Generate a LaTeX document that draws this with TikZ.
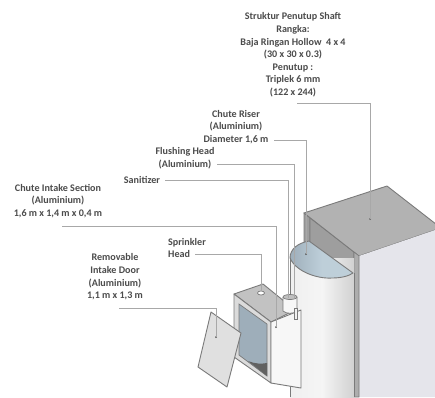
\documentclass[tikz,border=0pt]{standalone}
\usepackage{fontspec}
\setmainfont{Carlito}
\usetikzlibrary{shapes.geometric}
\definecolor{txt}{gray}{0.3}
\definecolor{ln}{gray}{0.66}
\definecolor{edge}{gray}{0.48}
\definecolor{topc}{gray}{0.70}
\definecolor{wallc}{gray}{0.62}
\definecolor{stripc}{gray}{0.68}
\definecolor{frontc}{RGB}{229,229,235}
\definecolor{waterc}{RGB}{190,207,217}
\definecolor{winc}{RGB}{158,174,186}
\tikzset{
  lbl/.style={font=\bfseries\fontsize{10.1}{12.6}\selectfont,text=txt,align=center,inner sep=0pt,anchor=center},
  leader/.style={draw=ln,line width=1pt},
  outl/.style={draw=edge,line width=0.9pt,line join=round},
  thin edge/.style={draw=edge,line width=0.6pt},
  dotc/.style={fill=black!65}
}
\begin{document}
\begin{tikzpicture}[x=1pt,y=-1pt]
\useasboundingbox (0,0) rectangle (435,397);
\fill[white] (0,0) rectangle (435,397);
\begin{scope}
\clip (0,0) rectangle (435,397);
% shaft
\path[thin edge,fill=wallc] (304,213) -- (310,218) -- (310,250) -- (304,250) -- cycle;
\path[thin edge,fill=wallc] (310,218) -- (354,252) -- (354,280) -- (310,250) -- cycle;
\path[outl,fill=topc] (304,213) -- (387,186) -- (441,228) -- (359,256) -- cycle;
\path[fill=frontc] (359,256) -- (441,228) -- (441,397) -- (359,397) -- cycle;
\path[thin edge,fill=stripc] (354,252) -- (359,256) -- (359,397) -- (354,397) -- cycle;
% chute
\shade[left color=black!6,right color=black!18,middle color=black!4] (290,258) rectangle (354,397);
\path[outl,left color=winc,right color=waterc,middle color=waterc] (309,241) .. controls (298,243) and (290,249) .. (290,258) .. controls (296,272) and (318,279) .. (332,278) .. controls (341,278) and (349,276) .. (353,273) -- cycle;
\draw[edge,line width=1pt] (290,258) -- (290,397);
\draw[edge,line width=0.7pt] (354,273) -- (354,397);
% box
\path[outl,fill=black!24] (234,294) -- (263,284) -- (295,310) -- (271,322) -- cycle;
\path[outl,fill=black!14] (234,294) -- (271,322) -- (271,383) -- (234,357) -- cycle;
\path[fill=winc,draw=edge,line width=0.7pt] (239,304) -- (267,324) -- (267,376) -- (239,355) -- cycle;
\fill[black!62] (248,361) .. controls (255,364) and (262,364) .. (267,363) -- (267,376) -- cycle;
\path[outl,fill=black!3] (271,322) -- (301,310) -- (301,388) -- (271,383) -- cycle;
\node[draw=edge,fill=white,ellipse,minimum width=7pt,minimum height=4pt,inner sep=0pt,line width=0.7pt] (spr) at (261,293) {};
% door
\path[outl,fill=black!12] (211,312) -- (241,333) -- (227,387) -- (198,367) -- cycle;
% cylinder
\path[draw=edge,line width=0.7pt,fill=black!3] (283,297) -- (283,311) .. controls (286,314) and (294,314) .. (297,311) -- (297,297);
\draw[edge,line width=0.7pt,fill=black!25] (290,297) ellipse (7 and 2.5);
\path[draw=edge,line width=0.6pt,fill=black!5] (294,308) rectangle (297,319);
\end{scope}
% labels
\node[lbl] (shaft) at (293,55) {Struktur Penutup Shaft\\Rangka:\\Baja Ringan Hollow\ \ 4 x 4\\(30 x 30 x 0.3)\\Penutup\ :\\Triplek 6 mm\\(122 x 244)};
\node[lbl] (riser) at (236,127) {Chute Riser\\(Aluminium)\\Diameter 1,6 m};
\node[lbl] (flush) at (185,158.5) {Flushing Head\\(Aluminium)};
\node[lbl] (sani) at (142,180) {Sanitizer};
\node[lbl] (intake) at (58,201) {Chute Intake Section\\(Aluminium)\\1,6 m x 1,4 m x 0,4 m};
\node[lbl,align=left,anchor=west] (sprk) at (168,248) {Sprinkler\\Head};
\node[lbl] (door) at (115,277) {Removable\\Intake Door\\(Aluminium)\\1,1 m x 1,3 m};
% leaders
\coordinate (a1) at (370,219); \fill[dotc] (a1) circle (1);
\draw[leader] (297,103) -- (370,103) -- (a1);
\coordinate (a2) at (306,254); \fill[dotc] (a2) circle (1);
\draw[leader] (274,140) -- (306,140) -- (a2);
\coordinate (a3) at (294,298);
\draw[leader] (217,164) -- (294,164) -- (a3);
\coordinate (a4) at (288,298);
\draw[leader] (165,180) -- (288,180) -- (a4);
\coordinate (a5) at (276,327); \fill[dotc] (a5) circle (1);
\draw[leader] (62,226) -- (276,226) -- (a5);
\coordinate (a6) at (261,291);
\draw[leader] (195,254) -- (261,254) -- (a6);
\coordinate (a7) at (216,337); \fill[dotc] (a7) circle (1);
\draw[leader] (119,308) -- (216,308) -- (a7);
\end{tikzpicture}
\end{document}
